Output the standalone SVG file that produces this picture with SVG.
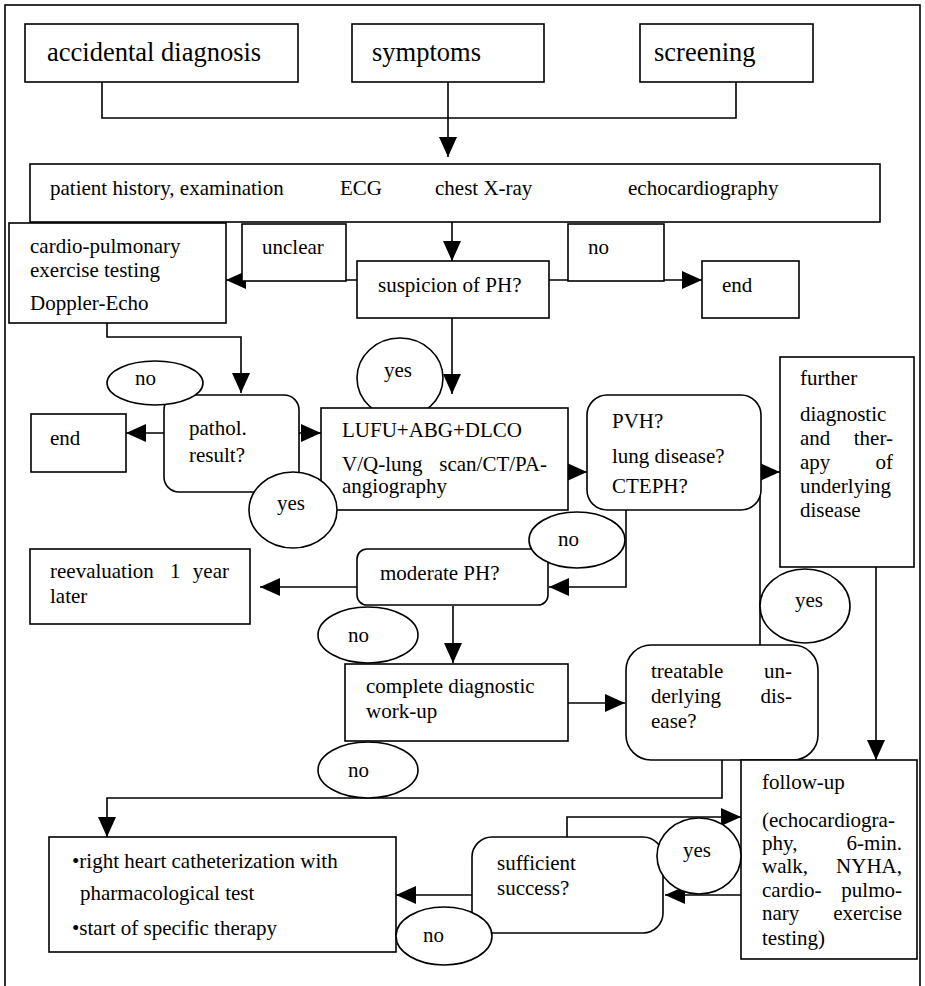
<svg xmlns="http://www.w3.org/2000/svg" width="925" height="986" viewBox="0 0 925 986">
<defs>
<marker id="arr" markerUnits="userSpaceOnUse" markerWidth="20" markerHeight="18" refX="20" refY="9" orient="auto">
<path d="M0,0 L20,9 L0,18 z" fill="#000"/>
</marker>
<style>
text{font-family:"Liberation Serif","Times New Roman",serif;font-size:21px;fill:#000}
.big{font-size:26.5px}
.e{text-anchor:end}
.box{fill:#fff;stroke:#000;stroke-width:1.6}
.lab{fill:#fff;stroke:#000;stroke-width:1.6}
.con path{fill:none;stroke:#000;stroke-width:1.6}
.arr{marker-end:url(#arr)}
</style>
</defs>
<rect x="0" y="0" width="925" height="986" fill="#fff"/>
<rect x="5" y="5" width="915" height="995" fill="none" stroke="#000" stroke-width="1.6"/>

<g id="connectors" class="con">
<path d="M102,82 V118 H736 V82"/>
<path class="arr" d="M448,82 V157"/>
<path class="arr" d="M452,222 V261"/>
<path class="arr" d="M357,280 H226"/>
<path class="arr" d="M549,280 H702"/>
<path class="arr" d="M107,323 V337 H241 V393"/>
<path class="arr" d="M452,318 V394"/>
<path class="arr" d="M164,433 H126"/>
<path class="arr" d="M299,433 H321"/>
<path class="arr" d="M568,472 H587"/>
<path class="arr" d="M761,472 H780"/>
<path d="M760,645 V472"/>
<path class="arr" d="M626,510 V587 H549"/>
<path class="arr" d="M357,587 H260"/>
<path class="arr" d="M453,606 V663"/>
<path class="arr" d="M568,703 H625"/>
<path class="arr" d="M876,567 V760"/>
<path class="arr" d="M722,760 V798 H107 V837"/>
<path class="arr" d="M741,895 H665"/>
<path class="arr" d="M567,837 V817 H741"/>
<path class="arr" d="M472,895 H396"/>
</g>

<g id="accidental">
<rect class="box" x="25" y="24" width="273" height="58"/>
<text class="big" x="47" y="61">accidental diagnosis</text>
</g>
<g id="symptoms">
<rect class="box" x="352" y="24" width="192" height="58"/>
<text class="big" x="372" y="61">symptoms</text>
</g>
<g id="screening">
<rect class="box" x="640" y="24" width="173" height="58"/>
<text class="big" x="654" y="61">screening</text>
</g>
<g id="history">
<rect class="box" x="30" y="164" width="850" height="58"/>
<text x="50" y="195">patient history, examination</text>
<text x="340" y="195">ECG</text>
<text x="435" y="195">chest X-ray</text>
<text x="628" y="195">echocardiography</text>
</g>
<g id="cardio">
<rect class="box" x="9" y="223" width="217" height="100"/>
<text x="30" y="253">cardio-pulmonary</text>
<text x="30" y="277">exercise testing</text>
<text x="30" y="310">Doppler-Echo</text>
</g>
<g id="unclear">
<rect class="box" x="242" y="224" width="104" height="57"/>
<text x="262" y="254">unclear</text>
</g>
<g id="suspicion">
<rect class="box" x="357" y="261" width="192" height="57"/>
<text x="378" y="292">suspicion of PH?</text>
</g>
<g id="no-box">
<rect class="box" x="568" y="224" width="96" height="57"/>
<text x="588" y="254">no</text>
</g>
<g id="end1">
<rect class="box" x="702" y="261" width="97" height="57"/>
<text x="722" y="292">end</text>
</g>
<g id="pathol">
<rect class="box" x="164" y="395" width="135" height="97" rx="15"/>
<text x="189" y="435">pathol.</text>
<text x="189" y="462">result?</text>
</g>
<g id="end2">
<rect class="box" x="31" y="414" width="95" height="58"/>
<text x="50" y="445">end</text>
</g>
<g id="yes1">
<ellipse class="lab" cx="400" cy="378" rx="43" ry="40"/>
<text x="384" y="377">yes</text>
</g>
<g id="lufu">
<rect class="box" x="321" y="408" width="247" height="102"/>
<text x="342" y="437">LUFU+ABG+DLCO</text>
<text x="342" y="471">V/Q-lung</text>
<text class="e" x="547" y="471">scan/CT/PA-</text>
<text x="342" y="493">angiography</text>
</g>
<g id="pvh">
<rect class="box" x="587" y="395" width="174" height="115" rx="20"/>
<text x="612" y="428">PVH?</text>
<text x="612" y="463">lung disease?</text>
<text x="612" y="493">CTEPH?</text>
</g>
<g id="further">
<rect class="box" x="780" y="357" width="134" height="210"/>
<text x="800" y="385">further</text>
<text x="800" y="421">diagnostic</text>
<text x="800" y="445">and</text>
<text class="e" x="893" y="445">ther-</text>
<text x="800" y="469">apy</text>
<text class="e" x="893" y="469">of</text>
<text x="800" y="493">underlying</text>
<text x="800" y="517">disease</text>
</g>
<g id="reevaluation">
<rect class="box" x="30" y="549" width="220" height="75"/>
<text x="50" y="578">reevaluation</text>
<text x="170" y="578">1</text>
<text class="e" x="229" y="578">year</text>
<text x="50" y="603">later</text>
</g>
<g id="moderate">
<rect class="box" x="357" y="549" width="191" height="56" rx="10"/>
<text x="380" y="580">moderate PH?</text>
</g>
<g id="complete">
<rect class="box" x="345" y="664" width="223" height="77"/>
<text x="366" y="693">complete diagnostic</text>
<text x="366" y="718">work-up</text>
</g>
<g id="treatable">
<rect class="box" x="626" y="645" width="192" height="115" rx="25"/>
<text x="651" y="678">treatable</text>
<text class="e" x="792" y="678">un-</text>
<text x="651" y="703">derlying</text>
<text class="e" x="792" y="703">dis-</text>
<text x="651" y="728">ease?</text>
</g>
<g id="followup">
<rect class="box" x="741" y="760" width="176" height="199"/>
<text x="762" y="789">follow-up</text>
<text x="762" y="827">(echocardiogra-</text>
<text x="762" y="850">phy,</text>
<text class="e" x="902" y="850">6-min.</text>
<text x="762" y="873">walk,</text>
<text class="e" x="902" y="873">NYHA,</text>
<text x="762" y="897">cardio-</text>
<text class="e" x="902" y="897">pulmo-</text>
<text x="762" y="920">nary</text>
<text class="e" x="902" y="920">exercise</text>
<text x="762" y="945">testing)</text>
</g>
<g id="sufficient">
<rect class="box" x="472" y="837" width="191" height="96" rx="20"/>
<text x="497" y="870">sufficient</text>
<text x="497" y="895">success?</text>
</g>
<g id="rhc">
<rect class="box" x="49" y="837" width="347" height="115"/>
<text x="72" y="868">•right heart catheterization with</text>
<text x="80" y="900">pharmacological test</text>
<text x="72" y="935">•start of specific therapy</text>
</g>

<g id="no1">
<ellipse class="lab" cx="155" cy="383" rx="48" ry="22"/>
<text x="135" y="385">no</text>
</g>
<g id="yes2">
<ellipse class="lab" cx="293" cy="510" rx="44" ry="38"/>
<text x="277" y="510">yes</text>
</g>
<g id="no2">
<ellipse class="lab" cx="577" cy="540" rx="48" ry="28"/>
<text x="558" y="546">no</text>
</g>
<g id="no3">
<ellipse class="lab" cx="368" cy="635" rx="50" ry="28"/>
<text x="348" y="642">no</text>
</g>
<g id="yes3">
<ellipse class="lab" cx="805" cy="606" rx="45" ry="37"/>
<text x="795" y="607">yes</text>
</g>
<g id="no4">
<ellipse class="lab" cx="368" cy="770" rx="50" ry="28"/>
<text x="348" y="777">no</text>
</g>
<g id="yes4">
<ellipse class="lab" cx="699" cy="856" rx="42" ry="38"/>
<text x="683" y="857">yes</text>
</g>
<g id="no5">
<ellipse class="lab" cx="444" cy="936" rx="48" ry="29"/>
<text x="423" y="942">no</text>
</g>
</svg>
